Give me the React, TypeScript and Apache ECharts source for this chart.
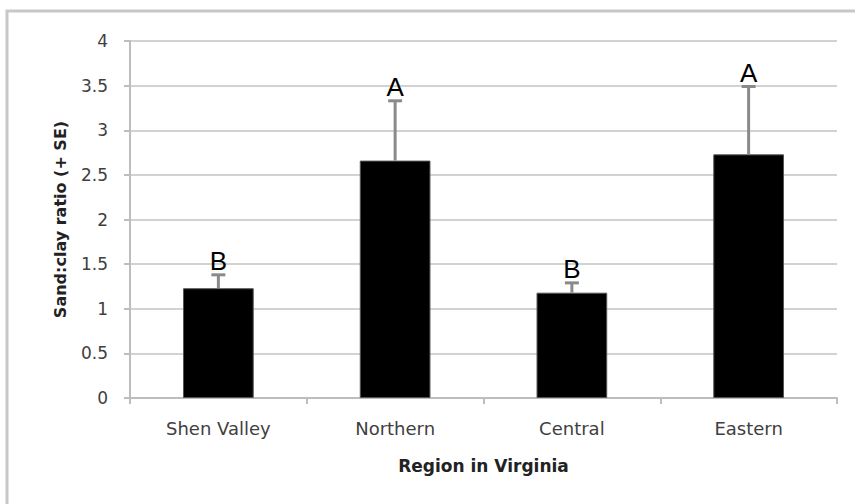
import React, { useEffect, useRef } from "react";
import * as echarts from "echarts";

// Mean sand:clay ratio per Virginia region, with the standard error drawn above each bar
const categories = ["Shen Valley", "Northern", "Central", "Eastern"];
const means = [1.23, 2.66, 1.18, 2.73];
const standardErrors = [0.15, 0.67, 0.11, 0.76];
const groupLetters = ["B", "A", "B", "A"];
const yTicks = [0, 0.5, 1, 1.5, 2, 2.5, 3, 3.5, 4];

const AXIS_FONT = "'DejaVu Sans', 'Liberation Sans', sans-serif";
const LETTER_FONT = "'Liberation Sans', 'DejaVu Sans', sans-serif";

export default function App() {
  const ref = useRef<HTMLDivElement>(null);

  useEffect(() => {
    if (!ref.current) return;
    const chart = echarts.init(ref.current, undefined, { renderer: "svg" });

    const errorData = categories.map((_, i) => [i, means[i], means[i] + standardErrors[i], i]);

    chart.setOption({
      animation: false,
      backgroundColor: "#ffffff",
      graphic: [
        {
          type: "rect",
          shape: { x: 7, y: 11, width: 900, height: 600 },
          style: { fill: "none", stroke: "#c8c8c8", lineWidth: 3 },
          silent: true,
          z: -1,
        },
      ],
      grid: { left: 130, right: 18, top: 41, bottom: 106 },
      xAxis: {
        type: "category",
        data: categories,
        name: "Region in Virginia",
        nameLocation: "middle",
        nameGap: 59,
        nameTextStyle: { fontFamily: AXIS_FONT, fontSize: 17, fontWeight: "bold", color: "#222" },
        axisLine: { lineStyle: { color: "#bdbdbd", width: 2 } },
        axisTick: { show: true, length: 6, lineStyle: { color: "#bdbdbd", width: 2 } },
        axisLabel: { fontFamily: AXIS_FONT, fontSize: 18, color: "#404040", margin: 21 },
      },
      yAxis: {
        type: "value",
        min: 0,
        max: 4,
        interval: 0.5,
        name: "Sand:clay ratio (+ SE)",
        nameLocation: "middle",
        nameGap: 62,
        nameRotate: 90,
        nameTextStyle: { fontFamily: AXIS_FONT, fontSize: 16, fontWeight: "bold", color: "#222" },
        axisLine: { show: true, lineStyle: { color: "#bdbdbd", width: 2 } },
        axisTick: { show: true, length: 6, lineStyle: { color: "#bdbdbd", width: 2 } },
        axisLabel: {
          fontFamily: AXIS_FONT,
          fontSize: 17,
          color: "#404040",
          margin: 22,
          formatter: (v: number) => (yTicks.includes(v) ? String(v) : ""),
        },
        splitLine: { lineStyle: { color: "#d2d2d2", width: 2 } },
      },
      series: [
        {
          type: "bar",
          data: means,
          barWidth: "40%",
          itemStyle: { color: "#000000", borderColor: "#555", borderWidth: 1 },
          z: 2,
        },
        {
          type: "custom",
          data: errorData,
          z: 3,
          renderItem: (params: any, api: any) => {
            const idx = api.value(0);
            const base = api.coord([idx, api.value(1)]);
            const top = api.coord([idx, api.value(2)]);
            const letter = groupLetters[api.value(3)];
            const capHalf = 7;
            return {
              type: "group",
              children: [
                {
                  type: "line",
                  shape: { x1: top[0], y1: base[1], x2: top[0], y2: top[1] },
                  style: { stroke: "#8a8a8a", lineWidth: 3 },
                },
                {
                  type: "line",
                  shape: { x1: top[0] - capHalf, y1: top[1], x2: top[0] + capHalf, y2: top[1] },
                  style: { stroke: "#8a8a8a", lineWidth: 3 },
                },
                {
                  type: "text",
                  x: top[0],
                  y: top[1] - 1,
                  style: {
                    text: letter,
                    fontFamily: LETTER_FONT,
                    fontSize: 26,
                    fill: "#000",
                    align: "center",
                    verticalAlign: "bottom",
                  },
                },
              ],
            };
          },
        },
      ],
    });

    return () => chart.dispose();
  }, []);

  return <div ref={ref} style={{ width: 855, height: 504, position: "absolute", left: 0, top: 0 }} />;
}
